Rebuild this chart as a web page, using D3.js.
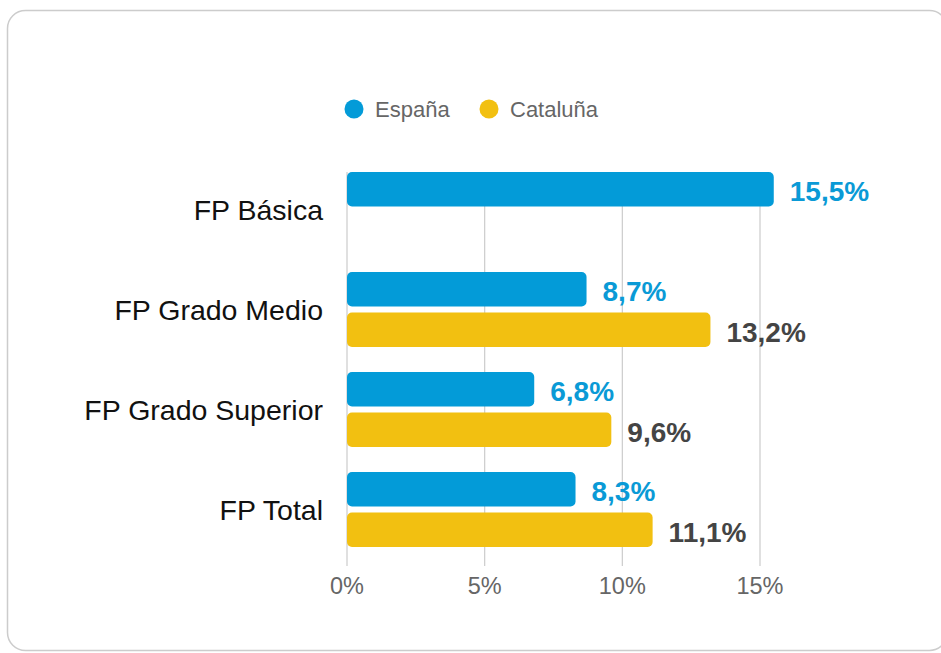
<!DOCTYPE html>
<html>
<head>
<meta charset="utf-8">
<script src="https://cdn.jsdelivr.net/npm/d3@7"></script>
<style>
  body { margin: 0; background: #fff; }
  svg { display: block; font-family: "Liberation Sans", Arial, sans-serif; }
</style>
</head>
<body>
<svg id="chart" width="941" height="653"></svg>
<script>
// Data
const categories = ['FP Básica', 'FP Grado Medio', 'FP Grado Superior', 'FP Total']
const series = ['España', 'Cataluña']
const espana = [15.5, 8.7, 6.8, 8.3]
const cataluna = [null, 13.2, 9.6, 11.1]
const tickValues = [0, 5, 10, 15]

const colors = { 'España': '#039bd8', 'Cataluña': '#f2c011' }
const labelColors = { 'España': '#0a9ad6', 'Cataluña': '#444444' }

const svg = d3.select('#chart')

// card frame
svg.append('rect')
    .attr('x', 7.5).attr('y', 10.5)
    .attr('width', 940).attr('height', 640)
    .attr('rx', 18)
    .attr('fill', '#fff')
    .attr('stroke', '#cccccc')
    .attr('stroke-width', 1.5)

const x = d3.scaleLinear().domain([0, 15]).range([347, 760])
const y = d3.scaleBand().domain(categories).range([172, 572])
const ySub = d3.scaleBand().domain(series).range([0, 75]).paddingInner(0.15)

// gridlines
svg.append('g').selectAll('line')
    .data(tickValues)
    .join('line')
    .attr('x1', d => x(d)).attr('x2', d => x(d))
    .attr('y1', 172).attr('y2', 566)
    .attr('stroke', '#cccccc')
    .attr('stroke-width', 1.2)

// axis labels
svg.append('g').selectAll('text')
    .data(tickValues)
    .join('text')
    .attr('x', d => x(d))
    .attr('y', 594)
    .attr('text-anchor', 'middle')
    .attr('font-size', 23.5)
    .attr('fill', '#666')
    .text(d => d + '%')

// category labels
svg.append('g').selectAll('text')
    .data(categories)
    .join('text')
    .attr('x', 323)
    .attr('y', d => y(d) + 38.5)
    .attr('dy', '0.35em')
    .attr('text-anchor', 'end')
    .attr('font-size', 28.5)
    .attr('fill', '#111')
    .text(d => d)

// bars
const rows = []
categories.forEach((c, i) => {
    rows.push({ cat: c, s: 'España', v: espana[i] })
    rows.push({ cat: c, s: 'Cataluña', v: cataluna[i] })
})
const barData = rows.filter(d => d.v != null)

svg.append('g').selectAll('rect')
    .data(barData)
    .join('rect')
    .attr('x', x(0))
    .attr('y', d => y(d.cat) + ySub(d.s))
    .attr('width', d => x(d.v) - x(0))
    .attr('height', ySub.bandwidth())
    .attr('rx', 5)
    .attr('fill', d => colors[d.s])

// value labels
svg.append('g').selectAll('text')
    .data(barData)
    .join('text')
    .attr('x', d => x(d.v) + 16)
    .attr('y', d => y(d.cat) + ySub(d.s) + ySub.bandwidth() / 2 + 2)
    .attr('dy', '0.35em')
    .attr('font-size', 28)
    .attr('font-weight', 'bold')
    .attr('fill', d => labelColors[d.s])
    .text(d => d3.format('.1f')(d.v).replace('.', ',') + '%')

// legend
const legend = svg.append('g')
const legendX = [354, 489]
series.forEach((s, i) => {
    legend.append('circle')
        .attr('cx', legendX[i]).attr('cy', 109)
        .attr('r', 9.5)
        .attr('fill', colors[s])
    legend.append('text')
        .attr('x', legendX[i] + 21)
        .attr('y', 109)
        .attr('dy', '0.35em')
        .attr('font-size', 22)
        .attr('fill', '#666')
        .text(s)
})
</script>
</body>
</html>
